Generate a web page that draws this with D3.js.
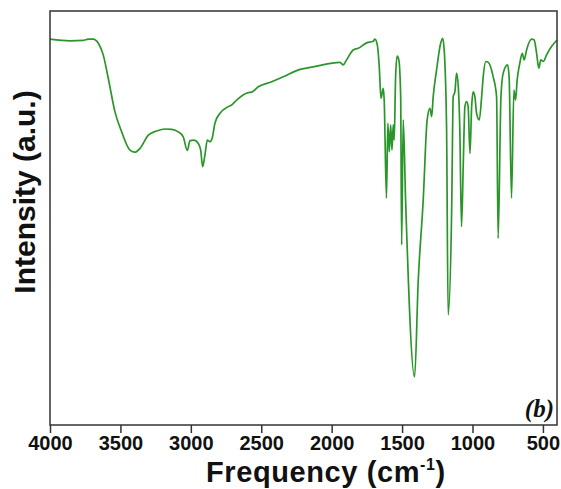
<!DOCTYPE html>
<html>
<head>
<meta charset="utf-8">
<script src="https://cdn.jsdelivr.net/npm/d3@7"></script>
<style>
  body { margin: 0; background: #fff; }
</style>
</head>
<body>
<div id="chart"></div>
<script>
// spectrum: wavenumber (cm-1) and intensity (a.u.)
const wavenumber = [4000, 3858, 3764, 3728, 3693, 3657, 3622, 3586, 3539, 3491, 3432, 3397, 3361, 3302, 3243, 3184,
  3136, 3089, 3054, 3025, 3006, 2978, 2947, 2930, 2916, 2900, 2883, 2864, 2848, 2829, 2793, 2734, 2710, 2675,
  2592, 2568, 2521, 2426, 2344, 2225, 2131, 1941, 1918, 1894, 1847, 1811, 1752, 1705, 1693, 1676, 1662, 1650,
  1634, 1627, 1611, 1601, 1591, 1581, 1572, 1563, 1556, 1546, 1535, 1523, 1510, 1503, 1492, 1475, 1411, 1386,
  1350, 1322, 1302, 1290, 1279, 1255, 1226, 1212, 1201, 1184, 1173, 1148, 1137, 1125, 1113, 1101, 1090, 1078,
  1065, 1054, 1042, 1031, 1018, 1006, 995, 983, 971, 952, 935, 924, 905, 888, 853, 829, 818, 798, 782, 751,
  740, 723, 706, 694, 683, 664, 647, 633, 616, 580, 562, 545, 529, 515, 498, 474, 439, 400];
const intensity = [93.2, 92.8, 92.9, 93.2, 93.2, 92.2, 89.4, 83.7, 75.7, 70.8, 66.4, 65.9, 66.8, 70.0, 71.0, 71.5,
  71.4, 70.8, 69.6, 66.3, 68.7, 68.8, 68.0, 66.4, 62.4, 65.2, 68.8, 68.4, 69.3, 72.9, 75.3, 76.9, 77.3, 78.5,
  80.3, 80.4, 81.7, 82.9, 84.1, 85.9, 86.5, 87.6, 87.0, 88.2, 90.6, 91.0, 92.3, 92.7, 93.2, 91.8, 86.5, 78.9,
  81.3, 78.5, 54.8, 72.9, 66.0, 72.5, 66.4, 72.5, 68.8, 84.1, 89.1, 88.2, 79.3, 43.5, 73.7, 54.3, 11.6, 34.3,
  54.3, 73.7, 76.5, 74.5, 79.3, 85.8, 92.2, 93.4, 90.6, 71.5, 26.6, 51.9, 79.3, 80.5, 85.0, 81.7, 71.4, 47.9,
  63.8, 76.9, 78.1, 76.9, 65.6, 76.9, 80.5, 79.3, 75.3, 73.7, 79.3, 84.1, 87.8, 87.6, 84.1, 79.3, 45.1, 79.3, 85.0, 87.0,
  84.1, 54.8, 80.9, 78.5, 83.3, 87.4, 89.8, 88.2, 90.6, 93.2, 93.0, 89.8, 86.2, 88.2, 87.8, 89.4, 91.4, 93.0];
const xTicks = [4000, 3500, 3000, 2500, 2000, 1500, 1000, 500];

const data = wavenumber.map((w, i) => ({w: w, v: intensity[i]}));

// set the dimensions and margins of the graph
const W = 561, H = 489;
const margin = {top: 11, right: 4, bottom: 64, left: 50},
      width = W - margin.left - margin.right,
      height = H - margin.top - margin.bottom;

const x = d3.scaleLinear().domain([4000, 400]).range([0, width]);
const y = d3.scaleLinear().domain([0, 100]).range([height, 0]);

const svg = d3.select("#chart").append("svg")
    .attr("width", W)
    .attr("height", H)
  .append("g")
    .attr("transform", "translate(" + margin.left + "," + margin.top + ")");

// the spectrum
const line = d3.line()
    .x(d => x(d.w))
    .y(d => y(d.v))
    .curve(d3.curveMonotoneX);

svg.append("path")
   .datum(data)
   .attr("fill", "none")
   .attr("stroke", "#2a962a")
   .attr("stroke-width", 1.7)
   .attr("stroke-linejoin", "round")
   .attr("d", line);

// frame
svg.append("rect")
   .attr("width", width)
   .attr("height", height)
   .attr("fill", "none")
   .attr("stroke", "#333")
   .attr("stroke-width", 1.5);

// x axis
const xAxis = svg.append("g")
   .attr("transform", "translate(0," + height + ")")
   .call(d3.axisBottom(x).tickValues(xTicks).tickSize(8).tickPadding(3).tickFormat(d3.format("d")));
xAxis.select(".domain").remove();
xAxis.selectAll("line").attr("stroke", "#333").attr("stroke-width", 1.5);
xAxis.selectAll("text")
   .attr("fill", "#111")
   .style("font-family", "'Liberation Sans', Arial, sans-serif")
   .style("font-weight", "bold")
   .style("font-size", "20px");

// axis titles
const title = svg.append("text")
   .attr("x", 156)
   .attr("y", height + 57)
   .attr("fill", "#111")
   .style("font-family", "'Liberation Sans', Arial, sans-serif")
   .style("font-weight", "bold")
   .style("font-size", "29px")
   .style("letter-spacing", "0.6px");
title.append("tspan").text("Frequency (cm");
title.append("tspan").attr("dy", -12).style("font-size", "16px").text("-1");
title.append("tspan").attr("dy", 12).text(")");

svg.append("text")
   .attr("text-anchor", "middle")
   .attr("transform", "translate(-15," + 181 + ")rotate(-90)")
   .attr("fill", "#111")
   .style("font-family", "'Liberation Sans', Arial, sans-serif")
   .style("font-weight", "bold")
   .style("font-size", "30px")
   .text("Intensity (a.u.)");

// panel label
svg.append("text")
   .attr("text-anchor", "end")
   .attr("x", width - 3)
   .attr("y", height - 8)
   .attr("fill", "#111")
   .style("font-family", "'Liberation Serif', 'Times New Roman', serif")
   .style("font-weight", "bold")
   .style("font-style", "italic")
   .style("font-size", "25px")
   .text("(b)");
</script>
</body>
</html>
